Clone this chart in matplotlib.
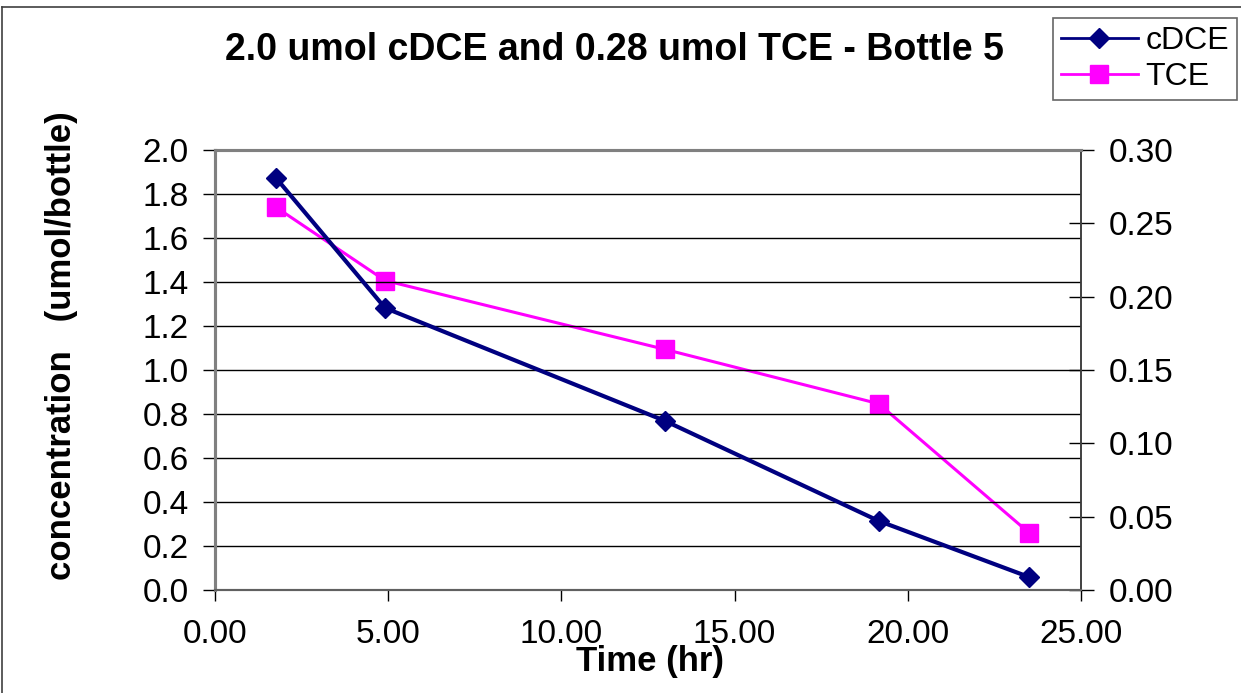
import matplotlib
matplotlib.use("Agg")
import matplotlib.pyplot as plt
from matplotlib.lines import Line2D

plt.rcParams["font.family"] = ["Liberation Sans", "DejaVu Sans"]

# values
time_hr = [1.76, 4.91, 13.0, 19.16, 23.5]
cdce = [1.873, 1.282, 0.768, 0.314, 0.059]
tce = [0.261, 0.211, 0.164, 0.127, 0.039]

x_ticks = [0, 5, 10, 15, 20, 25]
left_ticks = [0.0, 0.2, 0.4, 0.6, 0.8, 1.0, 1.2, 1.4, 1.6, 1.8, 2.0]
right_ticks = [0.00, 0.05, 0.10, 0.15, 0.20, 0.25, 0.30]

W, H = 1241, 693
fig = plt.figure(figsize=(W / 100, H / 100), dpi=100)

# outer chart border (right and bottom edges are cropped off in the original)
fig.add_artist(Line2D([2 / W, 2 / W], [0, 1 - 7 / H], transform=fig.transFigure,
                      color="#404040", linewidth=1.2))
fig.add_artist(Line2D([2 / W, 1], [1 - 7 / H, 1 - 7 / H], transform=fig.transFigure,
                      color="#404040", linewidth=1.2))

ax = fig.add_axes([215 / W, 103 / H, 866 / W, 440 / H])
ax2 = ax.twinx()

ax.set_xlim(0, 25)
ax.set_ylim(0, 2.0)
ax2.set_ylim(0, 0.30)

for y in left_ticks[1:-1]:
    ax.axhline(y, color="black", linewidth=1.0, zorder=1)

ax.plot(time_hr, cdce, color="#000080", linewidth=3, marker="D",
        markersize=10.5, zorder=4, clip_on=False)
ax2.plot(time_hr, tce, color="#FF00FF", linewidth=2.2, marker="s",
         markersize=13, zorder=3, clip_on=False)
ax.set_zorder(ax2.get_zorder() + 1)
ax.patch.set_visible(False)

ax.set_xticks(x_ticks)
ax.set_xticklabels([f"{v:.2f}" for v in x_ticks])
ax.set_yticks(left_ticks)
ax.set_yticklabels([f"{v:.1f}" for v in left_ticks])
ax2.set_yticks(right_ticks)
ax2.set_yticklabels([f"{v:.2f}" for v in right_ticks])

ax.tick_params(axis="x", direction="out", length=8, width=1, labelsize=24, pad=13)
ax.tick_params(axis="y", direction="out", length=9, width=1, labelsize=24, pad=10)
ax2.tick_params(axis="y", direction="inout", length=18, width=1, labelsize=24, pad=11)

for a in (ax, ax2):
    a.spines["top"].set_color("#808080")
    a.spines["top"].set_linewidth(2.2)
    a.spines["left"].set_color("#808080")
    a.spines["left"].set_linewidth(2.2)
    a.spines["right"].set_color("#404040")
    a.spines["right"].set_linewidth(1.2)
    a.spines["bottom"].set_color("#606060")
    a.spines["bottom"].set_linewidth(1.5)

fig.text(650 / W, 1 - 662 / H, "Time (hr)", ha="center", va="center",
         fontsize=25, fontweight="bold")
fig.text(62 / W, 1 - 346 / H, "concentration   (umol/bottle)", ha="center",
         va="center", rotation=90, fontsize=25, fontweight="bold")

fig.text(614 / W, 1 - 50 / H, "2.0 umol cDCE and 0.28 umol TCE - Bottle 5",
         ha="center", va="center", fontsize=27, fontweight="bold")

handles = [
    Line2D([], [], color="#000080", linewidth=2, marker="D", markersize=10),
    Line2D([], [], color="#FF00FF", linewidth=2, marker="s", markersize=13),
]
leg = fig.legend(handles, ["cDCE", "TCE"], loc="upper left",
                 bbox_to_anchor=(1053 / W, 1 - 18 / H), fontsize=23,
                 frameon=True, fancybox=False, edgecolor="#404040",
                 handlelength=2.4, handletextpad=0.25, borderpad=0.25,
                 labelspacing=0.2, borderaxespad=0)
leg.get_frame().set_linewidth(1.2)

fig.savefig("out.png", dpi=100)
